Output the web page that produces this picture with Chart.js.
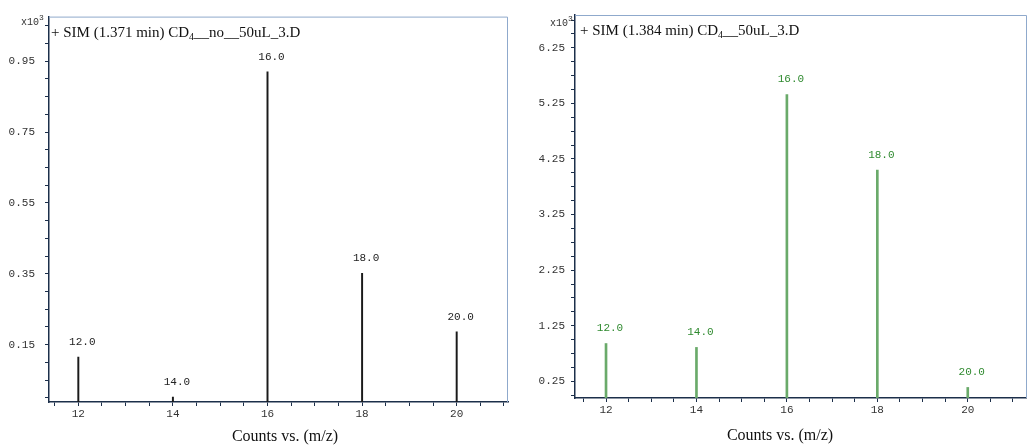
<!DOCTYPE html>
<html><head><meta charset="utf-8">
<script src="https://cdn.jsdelivr.net/npm/chart.js@4/dist/chart.umd.min.js"></script>
<style>
html,body{margin:0;padding:0;background:#fff;}
body{width:1027px;height:447px;overflow:hidden;position:relative;}
canvas{position:absolute;top:0;}
#c1{left:0;} #c2{left:515px;}
</style></head>
<body>
<canvas id="c1" width="515" height="447"></canvas>
<canvas id="c2" width="512" height="447"></canvas>
<script>
// ---- data (counts in x10^3) ----
const mz = [12, 14, 16, 18, 20];
const peakLabels = ['12.0', '14.0', '16.0', '18.0', '20.0'];
const countsNo = [0.115, 0.002, 0.920, 0.351, 0.186];
const counts50 = [0.93, 0.86, 5.41, 4.05, 0.14];
const xTickLabels = ['12', '14', '16', '18', '20'];
const yTicksLeft = ['0.15', '0.35', '0.55', '0.75', '0.95'];
const yTicksRight = ['0.25', '1.25', '2.25', '3.25', '4.25', '5.25', '6.25'];
const titleLeft = ['+ SIM (1.371 min) CD', '4', '__no__50uL_3.D'];
const titleRight = ['+ SIM (1.384 min) CD', '4', '__50uL_3.D'];
const axisTitle = 'Counts vs. (m/z)';
const scaleNote = ['x10', '3'];

function pick(list) {
  return v => {
    const m = list.find(s => Math.abs(parseFloat(s) - v) < 1e-6);
    return m === undefined ? '' : m;
  };
}

const AXIS = '#1c2f4a';
const FRAME = '#8fa9cc';
const MONO = '"Liberation Mono", "DejaVu Sans Mono", monospace';
const SERIF = '"Liberation Serif", "DejaVu Serif", serif';

const overlay = {
  id: 'overlay',
  afterDatasetsDraw(chart, args, o) {
    const ctx = chart.ctx, a = chart.chartArea;
    ctx.save();
    // frame (top & right)
    ctx.strokeStyle = FRAME; ctx.lineWidth = 1;
    ctx.beginPath();
    ctx.moveTo(a.left, a.top + 0.5);
    ctx.lineTo(a.right - 0.5, a.top + 0.5);
    ctx.lineTo(a.right - 0.5, a.bottom);
    ctx.stroke();
    // peak labels
    const meta = chart.getDatasetMeta(0);
    ctx.font = '11px ' + MONO;
    ctx.fillStyle = o.labelColor;
    ctx.textAlign = 'center'; ctx.textBaseline = 'middle';
    meta.data.forEach((bar, i) => {
      ctx.fillText(peakLabels[i], bar.x + 4, bar.y - 15);
    });
    // title
    ctx.fillStyle = '#111';
    ctx.textAlign = 'left'; ctx.textBaseline = 'alphabetic';
    let x = o.titleX;
    ctx.font = '15px ' + SERIF;
    ctx.fillText(o.title[0], x, o.titleY); x += ctx.measureText(o.title[0]).width;
    ctx.font = '10px ' + SERIF;
    ctx.fillText(o.title[1], x, o.titleY + 3); x += ctx.measureText(o.title[1]).width;
    ctx.font = '15px ' + SERIF;
    ctx.fillText(o.title[2], x, o.titleY);
    // scale note x10^3
    ctx.fillStyle = '#333';
    ctx.font = '10px ' + MONO;
    ctx.fillText(scaleNote[0], o.noteX, o.noteY);
    const w = ctx.measureText(scaleNote[0]).width;
    ctx.font = '8px ' + MONO;
    ctx.fillText(scaleNote[1], o.noteX + w, o.noteY - 5);
    // axis title
    ctx.fillStyle = '#111';
    ctx.font = '16px ' + SERIF;
    ctx.textAlign = 'center';
    ctx.fillText(axisTitle, o.axisTitleX, o.axisTitleY);
    ctx.restore();
  }
};

function makeChart(id, c) {
  return new Chart(document.getElementById(id), {
    type: 'bar',
    data: {
      datasets: [{
        data: mz.map((x, i) => ({ x: x, y: c.values[i] })),
        backgroundColor: c.barColor,
        borderWidth: 0,
        barThickness: c.barWidth,
        base: c.yMin
      }]
    },
    options: {
      responsive: false,
      animation: false,
      layout: { autoPadding: false, padding: { top: 15, right: c.rightPad, left: 0, bottom: 0 } },
      plugins: {
        legend: { display: false },
        tooltip: { enabled: false },
        overlay: c.overlay
      },
      scales: {
        x: {
          type: 'linear', position: 'bottom', offset: false,
          min: c.xMin, max: c.xMax,
          afterFit: s => { s.height = c.xHeight; },
          ticks: {
            stepSize: 0.5, includeBounds: false, autoSkip: false, maxRotation: 0,
            callback: pick(xTickLabels),
            font: { family: MONO, size: 11 }, color: '#333', padding: 1
          },
          grid: { offset: false, drawOnChartArea: false, drawTicks: true, tickLength: 4, color: AXIS },
          border: { display: true, color: AXIS, width: 1.5 }
        },
        y: {
          type: 'linear', position: 'left',
          min: c.yMin, max: c.yMax,
          afterFit: s => { s.width = c.yWidth; },
          ticks: {
            stepSize: c.yStep, includeBounds: false, autoSkip: false,
            callback: pick(c.yTicks),
            font: { family: MONO, size: 11 }, color: '#333', padding: c.yPad
          },
          grid: { drawOnChartArea: false, drawTicks: true, tickLength: 4, color: AXIS },
          border: { display: true, color: AXIS, width: 1.5 }
        }
      }
    },
    plugins: [overlay]
  });
}

makeChart('c1', {
  values: countsNo, barColor: '#1a1a1a', barWidth: 1.3,
  xMin: 11.38, xMax: 21.085, yMin: -0.012, yMax: 1.076, yStep: 0.05,
  yTicks: yTicksLeft, yWidth: 49, yPad: 10, xHeight: 45, rightPad: 7,
  overlay: {
    labelColor: '#222', title: titleLeft, titleX: 51, titleY: 37,
    noteX: 21, noteY: 25, axisTitleX: 285, axisTitleY: 441
  }
});

makeChart('c2', {
  values: counts50, barColor: '#6aaa6a', barWidth: 2,
  xMin: 11.314, xMax: 21.31, yMin: -0.05, yMax: 6.84, yStep: 0.25,
  yTicks: yTicksRight, yWidth: 60, yPad: 6, xHeight: 49, rightPad: 0,
  overlay: {
    labelColor: '#2f8a2f', title: titleRight, titleX: 65, titleY: 34.5,
    noteX: 35, noteY: 26, axisTitleX: 265, axisTitleY: 440
  }
});
</script>
</body></html>
